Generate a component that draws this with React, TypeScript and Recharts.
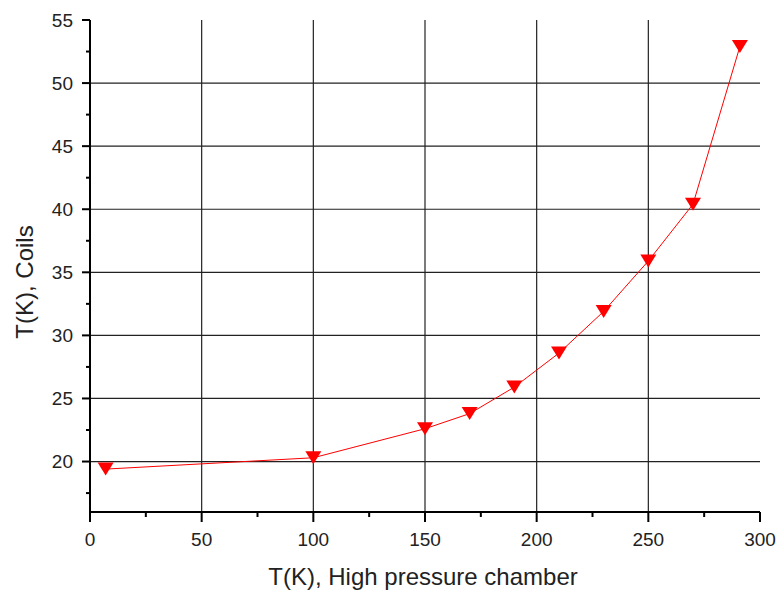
import React from "react";
import { LineChart, Line, XAxis, YAxis, CartesianGrid } from "recharts";

const chamberT = [7, 100, 150, 170, 190, 210, 230, 250, 270, 291];
const coilsT = [19.4, 20.3, 22.6, 23.8, 25.9, 28.6, 31.9, 35.9, 40.4, 52.9];

const xMajorTicks = [0, 50, 100, 150, 200, 250, 300];
const xMinorTicks = [25, 75, 125, 175, 225, 275];
const yMajorTicks = [20, 25, 30, 35, 40, 45, 50, 55];
const yMinorTicks = [17.5, 22.5, 27.5, 32.5, 37.5, 42.5, 47.5, 52.5];
const xGrid = [50, 100, 150, 200, 250];
const yGrid = [20, 25, 30, 35, 40, 45, 50];

const xTitle = "T(K), High pressure chamber";
const yTitle = "T(K), Coils";

const data = chamberT.map((x, i) => ({ x, y: coilsT[i] }));

const FONT = "'Liberation Sans', Arial, sans-serif";
const TEXT = "#222";

const XTick = (props: any) => {
  const { x, y, payload } = props;
  const major = xMajorTicks.includes(payload.value);
  return (
    <g>
      <line x1={x} y1={y} x2={x} y2={y + (major ? 10 : 5)} stroke="#000" strokeWidth={2} />
      {major && (
        <text x={x} y={y + 34} textAnchor="middle" fontSize={19} fill={TEXT} fontFamily={FONT}>
          {payload.value}
        </text>
      )}
    </g>
  );
};

const YTick = (props: any) => {
  const { x, y, payload } = props;
  const major = yMajorTicks.includes(payload.value);
  return (
    <g>
      <line x1={x - (major ? 8 : 4)} y1={y} x2={x} y2={y} stroke="#000" strokeWidth={2} />
      {major && (
        <text x={x - 17} y={y} dy="0.36em" textAnchor="end" fontSize={19} fill={TEXT} fontFamily={FONT}>
          {payload.value}
        </text>
      )}
    </g>
  );
};

const TriangleDot = (props: any) => {
  const { cx, cy } = props;
  if (cx == null || cy == null) return null;
  return (
    <polygon
      points={`${cx - 8},${cy - 6.5} ${cx + 8},${cy - 6.5} ${cx},${cy + 6.5}`}
      fill="#ff0000"
      stroke="none"
    />
  );
};

const YLabel = (props: any) => {
  const { viewBox } = props;
  const cx = viewBox.x + 33;
  const cy = viewBox.y + viewBox.height / 2 + 16;
  return (
    <text
      x={cx}
      y={cy}
      textAnchor="middle"
      transform={`rotate(-90, ${cx}, ${cy})`}
      fontSize={24}
      fill={TEXT}
      fontFamily={FONT}
    >
      {yTitle}
    </text>
  );
};

const XLabel = (props: any) => {
  const { viewBox } = props;
  const cx = viewBox.x + viewBox.width / 2 - 2;
  const cy = viewBox.y + 73;
  return (
    <text x={cx} y={cy} textAnchor="middle" fontSize={24} fill={TEXT} fontFamily={FONT}>
      {xTitle}
    </text>
  );
};

export default function App() {
  return (
    <div style={{ position: "absolute", left: 0, top: 0, background: "#fff" }}>
      <LineChart
        width={779}
        height={591}
        data={data}
        margin={{ top: 20, right: 19, left: 0, bottom: 0 }}
      >
        <CartesianGrid
          stroke="#222"
          strokeWidth={1.2}
          horizontalValues={yGrid}
          verticalValues={xGrid}
        />
        <XAxis
          dataKey="x"
          type="number"
          domain={[0, 300]}
          ticks={[...xMajorTicks, ...xMinorTicks].sort((a, b) => a - b)}
          interval={0}
          allowDataOverflow
          height={79}
          tickSize={0}
          tickMargin={0}
          tickLine={false}
          tick={<XTick />}
          axisLine={{ stroke: "#000", strokeWidth: 2 }}
          label={<XLabel />}
        />
        <XAxis
          xAxisId="top"
          orientation="top"
          type="number"
          domain={[0, 300]}
          height={0}
          tick={false}
          tickLine={false}
          axisLine={{ stroke: "#000", strokeWidth: 2 }}
        />
        <YAxis
          type="number"
          domain={[16, 55]}
          ticks={[...yMajorTicks, ...yMinorTicks].sort((a, b) => a - b)}
          interval={0}
          allowDataOverflow
          width={90}
          tickSize={0}
          tickMargin={0}
          tickLine={false}
          tick={<YTick />}
          axisLine={{ stroke: "#000", strokeWidth: 2 }}
          label={<YLabel />}
        />
        <YAxis
          yAxisId="right"
          orientation="right"
          type="number"
          domain={[16, 55]}
          width={0}
          tick={false}
          tickLine={false}
          axisLine={{ stroke: "#000", strokeWidth: 2 }}
        />
        <Line
          dataKey="y"
          stroke="#ff0000"
          strokeWidth={1}
          dot={<TriangleDot />}
          activeDot={false}
          isAnimationActive={false}
        />
      </LineChart>
    </div>
  );
}
